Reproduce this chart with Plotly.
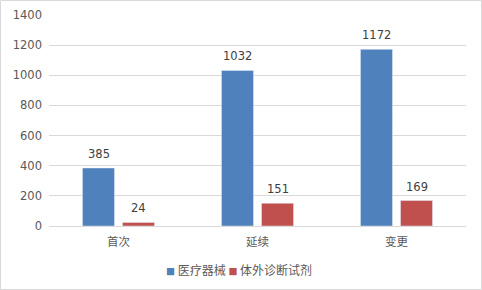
import plotly.graph_objects as go

categories = ["首次", "延续", "变更"]
devices = [385, 1032, 1172]
ivd = [24, 151, 169]
series_names = ["医疗器械", "体外诊断试剂"]
colors = ["#4F81BD", "#C0504D"]

num_font = "DejaVu Sans, sans-serif"
cjk_font = "Noto Sans CJK SC, sans-serif"

fig = go.Figure()
for name, vals, col in zip(series_names, [devices, ivd], colors):
    fig.add_trace(go.Bar(x=categories, y=vals, name=name, marker_color=col,
                         showlegend=False))

annotations = []
for vals, xs in [(devices, -20), (ivd, 20)]:
    for c, v in zip(categories, vals):
        annotations.append(dict(x=c, y=v, xref="x", yref="y", text=str(v),
                                showarrow=False, xshift=xs, yshift=5,
                                yanchor="bottom",
                                font=dict(family=num_font, size=11.5, color="#404040")))

# legend as text
legend_text = " ".join(
    f"<span style='color:{c};font-size:9px'>■</span> {n}" for n, c in zip(series_names, colors))
annotations.append(dict(x=(239 - 49) / 417, y=-43 / 211, xref="paper", yref="paper",
                        text=legend_text, showarrow=False, xanchor="center",
                        yanchor="middle",
                        font=dict(family=cjk_font, size=12, color="#595959")))

fig.update_layout(
    width=482, height=290,
    margin=dict(l=49, r=16, t=15, b=64, autoexpand=False),
    paper_bgcolor="white", plot_bgcolor="white",
    font=dict(family=num_font, size=11.5, color="#595959"),
    barmode="group", bargap=0.424, bargroupgap=0.2,
    showlegend=False,
    xaxis=dict(showline=True, linecolor="#D9D9D9", linewidth=1, ticks="",
               tickfont=dict(family=cjk_font, size=11.5), ticklabelstandoff=5),
    yaxis=dict(range=[0, 1400], dtick=200, showgrid=True, gridcolor="#D9D9D9",
               zeroline=False, ticklabelstandoff=6,
               tickfont=dict(family=num_font, size=11.5)),
    annotations=annotations,
    shapes=[dict(type="rect", xref="paper", yref="paper", x0=-48.5 / 417, x1=1 + 15.5 / 417,
                 y0=-63.5 / 211, y1=1 + 14.5 / 211, line=dict(color="#D9D9D9", width=1))],
)
fig.write_html("out.html")
